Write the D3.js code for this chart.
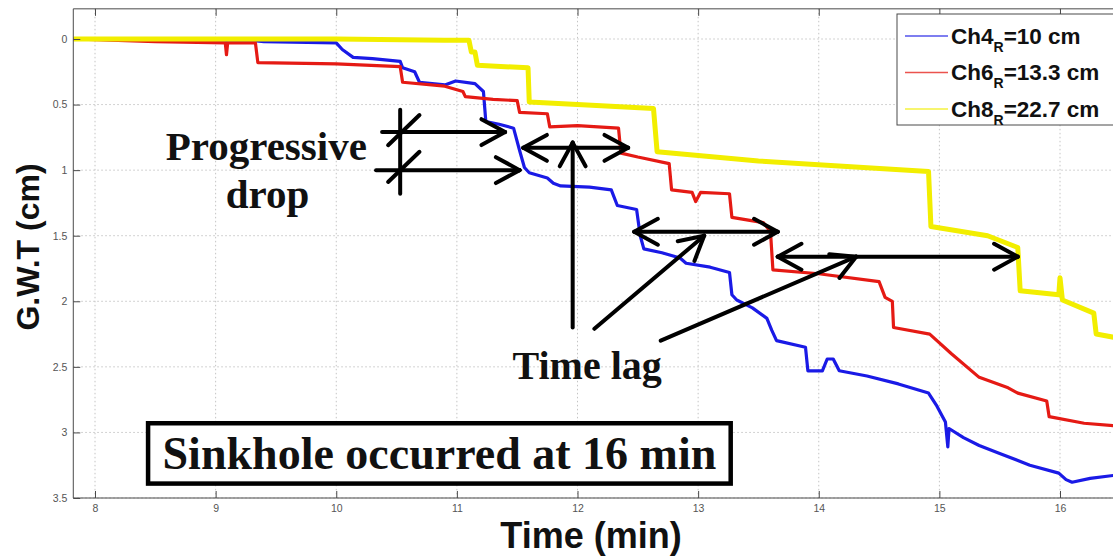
<!DOCTYPE html>
<html>
<head>
<meta charset="utf-8">
<script src="https://cdn.jsdelivr.net/npm/d3@7"></script>
<style>
  body { margin: 0; background: #fff; }
  svg { display: block; }
</style>
</head>
<body>
<svg id="chart" width="1113" height="558"></svg>
<script>
// ---- data -------------------------------------------------------------
const xTicks = [8, 9, 10, 11, 12, 13, 14, 15, 16];
const yTicks = [0, 0.5, 1, 1.5, 2, 2.5, 3, 3.5];

// Ch4 (R = 10 cm): groundwater table drop (cm) vs time (min)
const ch4Time  = [7.82, 8.5, 9.3, 9.4, 10.0, 10.05, 10.14, 10.3, 10.53, 10.55, 10.65, 10.69, 10.9, 10.99, 11.15, 11.22, 11.24, 11.35, 11.47, 11.52, 11.56, 11.6, 11.75, 11.8, 11.86, 12.1, 12.28, 12.33, 12.49, 12.52, 12.55, 12.7, 12.85, 12.9, 13.1, 13.26, 13.28, 13.32, 13.45, 13.57, 13.61, 13.65, 13.89, 13.91, 14.03, 14.07, 14.12, 14.17, 14.4, 14.66, 14.91, 14.98, 15.05, 15.07, 15.08, 15.2, 15.33, 15.5, 15.75, 15.99, 16.05, 16.1, 16.25, 16.6];
const ch4Depth = [0.0, 0.01, 0.01, 0.02, 0.03, 0.08, 0.14, 0.15, 0.17, 0.22, 0.25, 0.33, 0.35, 0.32, 0.34, 0.40, 0.63, 0.65, 0.68, 0.85, 0.98, 1.02, 1.06, 1.10, 1.12, 1.13, 1.15, 1.27, 1.30, 1.50, 1.60, 1.63, 1.67, 1.71, 1.74, 1.78, 1.95, 1.99, 2.05, 2.13, 2.22, 2.30, 2.35, 2.53, 2.53, 2.44, 2.44, 2.53, 2.57, 2.63, 2.70, 2.80, 2.92, 3.11, 2.97, 3.04, 3.10, 3.16, 3.25, 3.31, 3.36, 3.38, 3.35, 3.31];

// Ch6 (R = 13.3 cm)
const ch6Time  = [7.82, 8.5, 9.08, 9.09, 9.10, 9.33, 9.35, 10.0, 10.53, 10.55, 10.9, 11.05, 11.07, 11.3, 11.5, 11.52, 11.75, 11.77, 12.0, 12.34, 12.36, 12.5, 12.76, 12.78, 12.95, 12.98, 13.02, 13.26, 13.28, 13.54, 13.6, 13.62, 14.0, 14.5, 14.55, 14.61, 14.62, 14.92, 15.1, 15.33, 15.57, 15.65, 15.89, 15.91, 16.2, 16.6];
const ch6Depth = [0.0, 0.02, 0.03, 0.12, 0.03, 0.03, 0.18, 0.19, 0.21, 0.33, 0.36, 0.40, 0.44, 0.46, 0.47, 0.56, 0.57, 0.67, 0.66, 0.68, 0.87, 0.90, 0.95, 1.15, 1.17, 1.24, 1.17, 1.18, 1.36, 1.40, 1.47, 1.76, 1.79, 1.85, 1.97, 2.00, 2.20, 2.25, 2.40, 2.58, 2.66, 2.70, 2.76, 2.88, 2.93, 2.96];

// Ch8 (R = 22.7 cm)
const ch8Time  = [7.82, 9.0, 10.0, 10.9, 11.1, 11.12, 11.15, 11.17, 11.59, 11.6, 12.0, 12.63, 12.66, 13.5, 14.2, 14.91, 14.93, 15.4, 15.65, 15.67, 15.99, 16.0, 16.02, 16.28, 16.3, 16.6];
const ch8Depth = [0.0, 0.0, 0.0, 0.01, 0.01, 0.10, 0.10, 0.20, 0.22, 0.48, 0.50, 0.53, 0.86, 0.93, 0.97, 1.01, 1.43, 1.50, 1.59, 1.92, 1.95, 1.82, 1.99, 2.09, 2.25, 2.30];

const seriesLabels = ["Ch4", "Ch6", "Ch8"];
const seriesRadius = ["=10 cm", "=13.3 cm", "=22.7 cm"];
const seriesColors = ["#1a1ae6", "#e51a14", "#f2ee00"];
const seriesWidths = [3.2, 3.2, 5];

// annotation geometry, in data units (time, depth)
const dropArrows  = [[10.38, 11.40, 0.71], [10.33, 11.52, 1.0]];      // [t0, t1, depth]
const dropBar     = [10.53, 0.54, 1.18];                               // [t, top, bottom]
const dropSlashes = [[10.43, 0.81, 10.69, 0.58], [10.43, 1.09, 10.69, 0.86]];
const lagSpans    = [[11.55, 12.42, 0.83], [12.47, 13.66, 1.47], [13.66, 15.65, 1.66]];
const lagPointers = [[11.96, 2.20, 11.96, 0.79], [12.14, 2.21, 13.05, 1.50], [12.69, 2.30, 14.31, 1.66]];
const noteBox     = [8.44, 13.27, 2.93, 3.39];

// ---- layout -----------------------------------------------------------
const svg = d3.select("#chart");
const x = d3.scaleLinear().domain([8, 16]).range([95, 1060]);
const y = d3.scaleLinear().domain([0, 3.5]).range([39, 498]);
const xMin = 7.82, xMax = 16.6, yTop = -0.23, yBottom = 3.5;
const plotL = x(xMin), plotR = x(xMax), plotT = y(yTop), plotB = y(yBottom);

svg.append("rect").attr("x", 0).attr("y", 0).attr("width", 1113).attr("height", 558).attr("fill", "#fff");

// grid
const grid = svg.append("g").attr("stroke", "#c4c4c4").attr("stroke-width", 1).attr("stroke-dasharray", "1.5,2.5");
grid.selectAll("line.gx").data(xTicks).join("line").attr("class", "gx")
  .attr("x1", d => x(d)).attr("x2", d => x(d)).attr("y1", plotT).attr("y2", plotB);
grid.selectAll("line.gy").data(yTicks).join("line").attr("class", "gy")
  .attr("x1", plotL).attr("x2", plotR).attr("y1", d => y(d)).attr("y2", d => y(d));

// series
svg.append("clipPath").attr("id", "plotArea").append("rect")
  .attr("x", plotL).attr("y", plotT).attr("width", plotR - plotL).attr("height", plotB - plotT);
const series = [
  ch4Time.map((t, i) => [t, ch4Depth[i]]),
  ch6Time.map((t, i) => [t, ch6Depth[i]]),
  ch8Time.map((t, i) => [t, ch8Depth[i]])
];
const line = d3.line().x(d => x(d[0])).y(d => y(d[1]));
svg.append("g").attr("clip-path", "url(#plotArea)")
  .selectAll("path").data(series).join("path")
  .attr("d", line).attr("fill", "none")
  .attr("stroke", (d, i) => seriesColors[i])
  .attr("stroke-width", (d, i) => seriesWidths[i])
  .attr("stroke-linejoin", "round");

// axes (ticks point inward)
const axisColor = "#4a4a4a";
function styleAxis(g) {
  g.select(".domain").attr("stroke", axisColor);
  g.selectAll(".tick line").attr("stroke", axisColor);
  g.selectAll(".tick text").attr("fill", "#555").attr("font-family", "Liberation Sans, Arial, sans-serif").attr("font-size", 10.5);
}
const xAxis = d3.axisBottom(x).tickValues(xTicks).tickFormat(d3.format("d")).tickSize(-7).tickPadding(7);
svg.append("g").attr("transform", `translate(0,${plotB})`).call(xAxis).call(styleAxis)
  .select(".domain").attr("d", `M${plotL},0H${plotR}`);
svg.append("g").attr("transform", `translate(0,${plotT})`)
  .call(d3.axisTop(x).tickValues(xTicks).tickFormat("").tickSize(-7)).call(styleAxis)
  .select(".domain").attr("d", `M${plotL},0H${plotR}`);
const yAxis = d3.axisLeft(y).tickValues(yTicks).tickFormat(d3.format("")).tickSize(-7).tickPadding(6);
svg.append("g").attr("transform", `translate(${plotL},0)`).call(yAxis).call(styleAxis)
  .select(".domain").attr("d", `M0,${plotT}V${plotB}`);

// axis titles
svg.append("text").attr("x", 591).attr("y", 548).attr("text-anchor", "middle")
  .attr("font-family", "Liberation Sans, Arial, sans-serif").attr("font-weight", "bold").attr("font-size", 36)
  .attr("fill", "#111").text("Time (min)");
svg.append("text").attr("transform", "translate(39,247) rotate(-90)").attr("text-anchor", "middle")
  .attr("font-family", "Liberation Sans, Arial, sans-serif").attr("font-weight", "bold").attr("font-size", 32)
  .attr("fill", "#111").text("G.W.T (cm)");

// legend
const legend = svg.append("g");
legend.append("rect").attr("x", 897).attr("y", 14).attr("width", 260).attr("height", 111)
  .attr("fill", "#fff").attr("stroke", axisColor).attr("stroke-width", 1);
seriesLabels.forEach((name, i) => {
  const cy = 36 + i * 36.5;
  legend.append("line").attr("x1", 905).attr("x2", 948).attr("y1", cy).attr("y2", cy)
    .attr("stroke", seriesColors[i]).attr("stroke-width", 1.3).attr("opacity", 0.75);
  const t = legend.append("text").attr("x", 951).attr("y", cy + 7.5)
    .attr("font-family", "Liberation Sans, Arial, sans-serif").attr("font-weight", "bold")
    .attr("font-size", 22.5).attr("fill", "#111");
  t.append("tspan").text(name);
  t.append("tspan").attr("font-size", 14).attr("dy", 8).text("R");
  t.append("tspan").attr("dy", -8).text(seriesRadius[i]);
});

// annotations
const ann = svg.append("g").attr("stroke", "#000").attr("stroke-width", 4).attr("fill", "none").attr("stroke-linecap", "round");
function seg(x1, y1, x2, y2) {
  ann.append("line").attr("x1", x1).attr("y1", y1).attr("x2", x2).attr("y2", y2);
}
function head(tx, ty, fx, fy) {
  const a = Math.atan2(ty - fy, tx - fx), len = 27, spread = 0.5;
  seg(tx, ty, tx - len * Math.cos(a - spread), ty - len * Math.sin(a - spread));
  seg(tx, ty, tx - len * Math.cos(a + spread), ty - len * Math.sin(a + spread));
}
dropArrows.forEach(([t0, t1, v]) => {
  seg(x(t0), y(v), x(t1), y(v));
  head(x(t1), y(v), x(t0), y(v));
});
seg(x(dropBar[0]), y(dropBar[1]), x(dropBar[0]), y(dropBar[2]));
dropSlashes.forEach(([t0, v0, t1, v1]) => seg(x(t0), y(v0), x(t1), y(v1)));
lagSpans.forEach(([t0, t1, v]) => {
  seg(x(t0), y(v), x(t1), y(v));
  head(x(t1), y(v), x(t0), y(v));
  head(x(t0), y(v), x(t1), y(v));
});
lagPointers.forEach(([t0, v0, t1, v1]) => {
  seg(x(t0), y(v0), x(t1), y(v1));
  head(x(t1), y(v1), x(t0), y(v0));
});

const serif = "Liberation Serif, Times New Roman, serif";
function label(tc, v, str, size) {
  svg.append("text").attr("x", x(tc)).attr("y", y(v)).attr("text-anchor", "middle")
    .attr("font-family", serif).attr("font-weight", "bold").attr("font-size", size)
    .attr("fill", "#111").text(str);
}
label(9.42, 0.92, "Progressive", 41);
label(9.43, 1.29, "drop", 41);
label(12.08, 2.59, "Time lag", 40);

svg.append("rect")
  .attr("x", x(noteBox[0])).attr("y", y(noteBox[2]))
  .attr("width", x(noteBox[1]) - x(noteBox[0])).attr("height", y(noteBox[3]) - y(noteBox[2]))
  .attr("fill", "#fff").attr("stroke", "#000").attr("stroke-width", 4.5);
label((noteBox[0] + noteBox[1]) / 2, 3.28, "Sinkhole occurred at 16 min", 46);
</script>
</body>
</html>
